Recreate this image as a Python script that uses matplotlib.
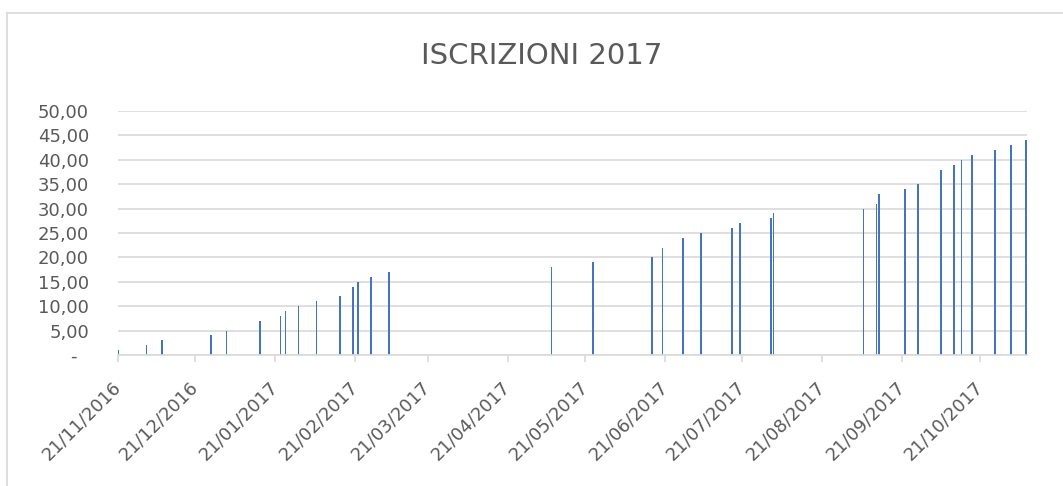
import datetime as dt
import matplotlib
matplotlib.use("Agg")
import matplotlib.pyplot as plt
import matplotlib.dates as mdates
from matplotlib.lines import Line2D

# ==========================
# Data
# ==========================

dates = [
    "2016-11-21", "2016-12-02", "2016-12-08", "2016-12-27", "2017-01-02",
    "2017-01-15", "2017-01-15", "2017-01-23", "2017-01-25", "2017-01-30",
    "2017-02-06", "2017-02-15", "2017-02-20", "2017-02-20", "2017-02-22",
    "2017-02-27", "2017-03-06", "2017-05-08", "2017-05-24", "2017-06-16",
    "2017-06-20", "2017-06-20", "2017-06-28", "2017-06-28", "2017-07-05",
    "2017-07-17", "2017-07-20", "2017-08-01", "2017-08-02", "2017-09-06",
    "2017-09-11", "2017-09-12", "2017-09-12", "2017-09-22", "2017-09-27",
    "2017-10-06", "2017-10-06", "2017-10-06", "2017-10-11", "2017-10-14",
    "2017-10-18", "2017-10-27", "2017-11-02", "2017-11-08",
]
iscritti = list(range(1, 45))

tick_dates = ["2016-11-21", "2016-12-21", "2017-01-21", "2017-02-21",
              "2017-03-21", "2017-04-21", "2017-05-21", "2017-06-21",
              "2017-07-21", "2017-08-21", "2017-09-21", "2017-10-21"]
y_ticks = [0, 5, 10, 15, 20, 25, 30, 35, 40, 45, 50]

TITLE = "ISCRIZIONI 2017"

# ==========================
# Style
# ==========================

BAR_COLOR = "#4472C4"
TEXT_COLOR = "#595959"
GRID_COLOR = "#d9d9d9"
plt.rcParams["font.family"] = ["DejaVu Sans"]

x = [mdates.date2num(dt.datetime.strptime(d, "%Y-%m-%d")) for d in dates]
xt = [mdates.date2num(dt.datetime.strptime(d, "%Y-%m-%d")) for d in tick_dates]

fig = plt.figure(figsize=(10.63, 4.86), dpi=100)
ax = fig.add_axes([118 / 1063, 1 - 355 / 486, (1027 - 118) / 1063, (355 - 111) / 486])

ax.bar(x, iscritti, width=0.6, color=BAR_COLOR, linewidth=0, zorder=3)

ax.set_xlim(xt[0], x[-1] + 0.3)
ax.set_ylim(0, 50)

ax.set_yticks(y_ticks)
ax.set_yticklabels(["-  " if v == 0 else f"{v:.2f}".replace(".", ",") for v in y_ticks])
ax.yaxis.grid(True, color=GRID_COLOR, linewidth=1.2, zorder=0)
ax.tick_params(axis="y", length=0, pad=21, labelsize=13, labelcolor=TEXT_COLOR)

ax.set_xticks(xt)
ax.set_xticklabels([dt.datetime.strptime(d, "%Y-%m-%d").strftime("%d/%m/%Y") for d in tick_dates],
                   rotation=45, ha="right", va="center", rotation_mode="anchor")
ax.tick_params(axis="x", length=5, width=1.2, color=GRID_COLOR, pad=16,
               labelsize=13, labelcolor=TEXT_COLOR)

for side in ["top", "right", "left"]:
    ax.spines[side].set_visible(False)
ax.spines["bottom"].set_color(GRID_COLOR)
ax.spines["bottom"].set_linewidth(1.2)
ax.spines["bottom"].set_zorder(4)

fig.text(542 / 1063, 1 - 56 / 486, TITLE, ha="center", va="center",
         fontsize=21, color=TEXT_COLOR)

# chart area border (top and left edges visible)
fig.add_artist(Line2D([7 / 1063, 1], [1 - 13 / 486, 1 - 13 / 486], color=GRID_COLOR, linewidth=1.2))
fig.add_artist(Line2D([7 / 1063, 7 / 1063], [0, 1 - 13 / 486], color=GRID_COLOR, linewidth=1.2))

fig.savefig("out.png", dpi=100)
